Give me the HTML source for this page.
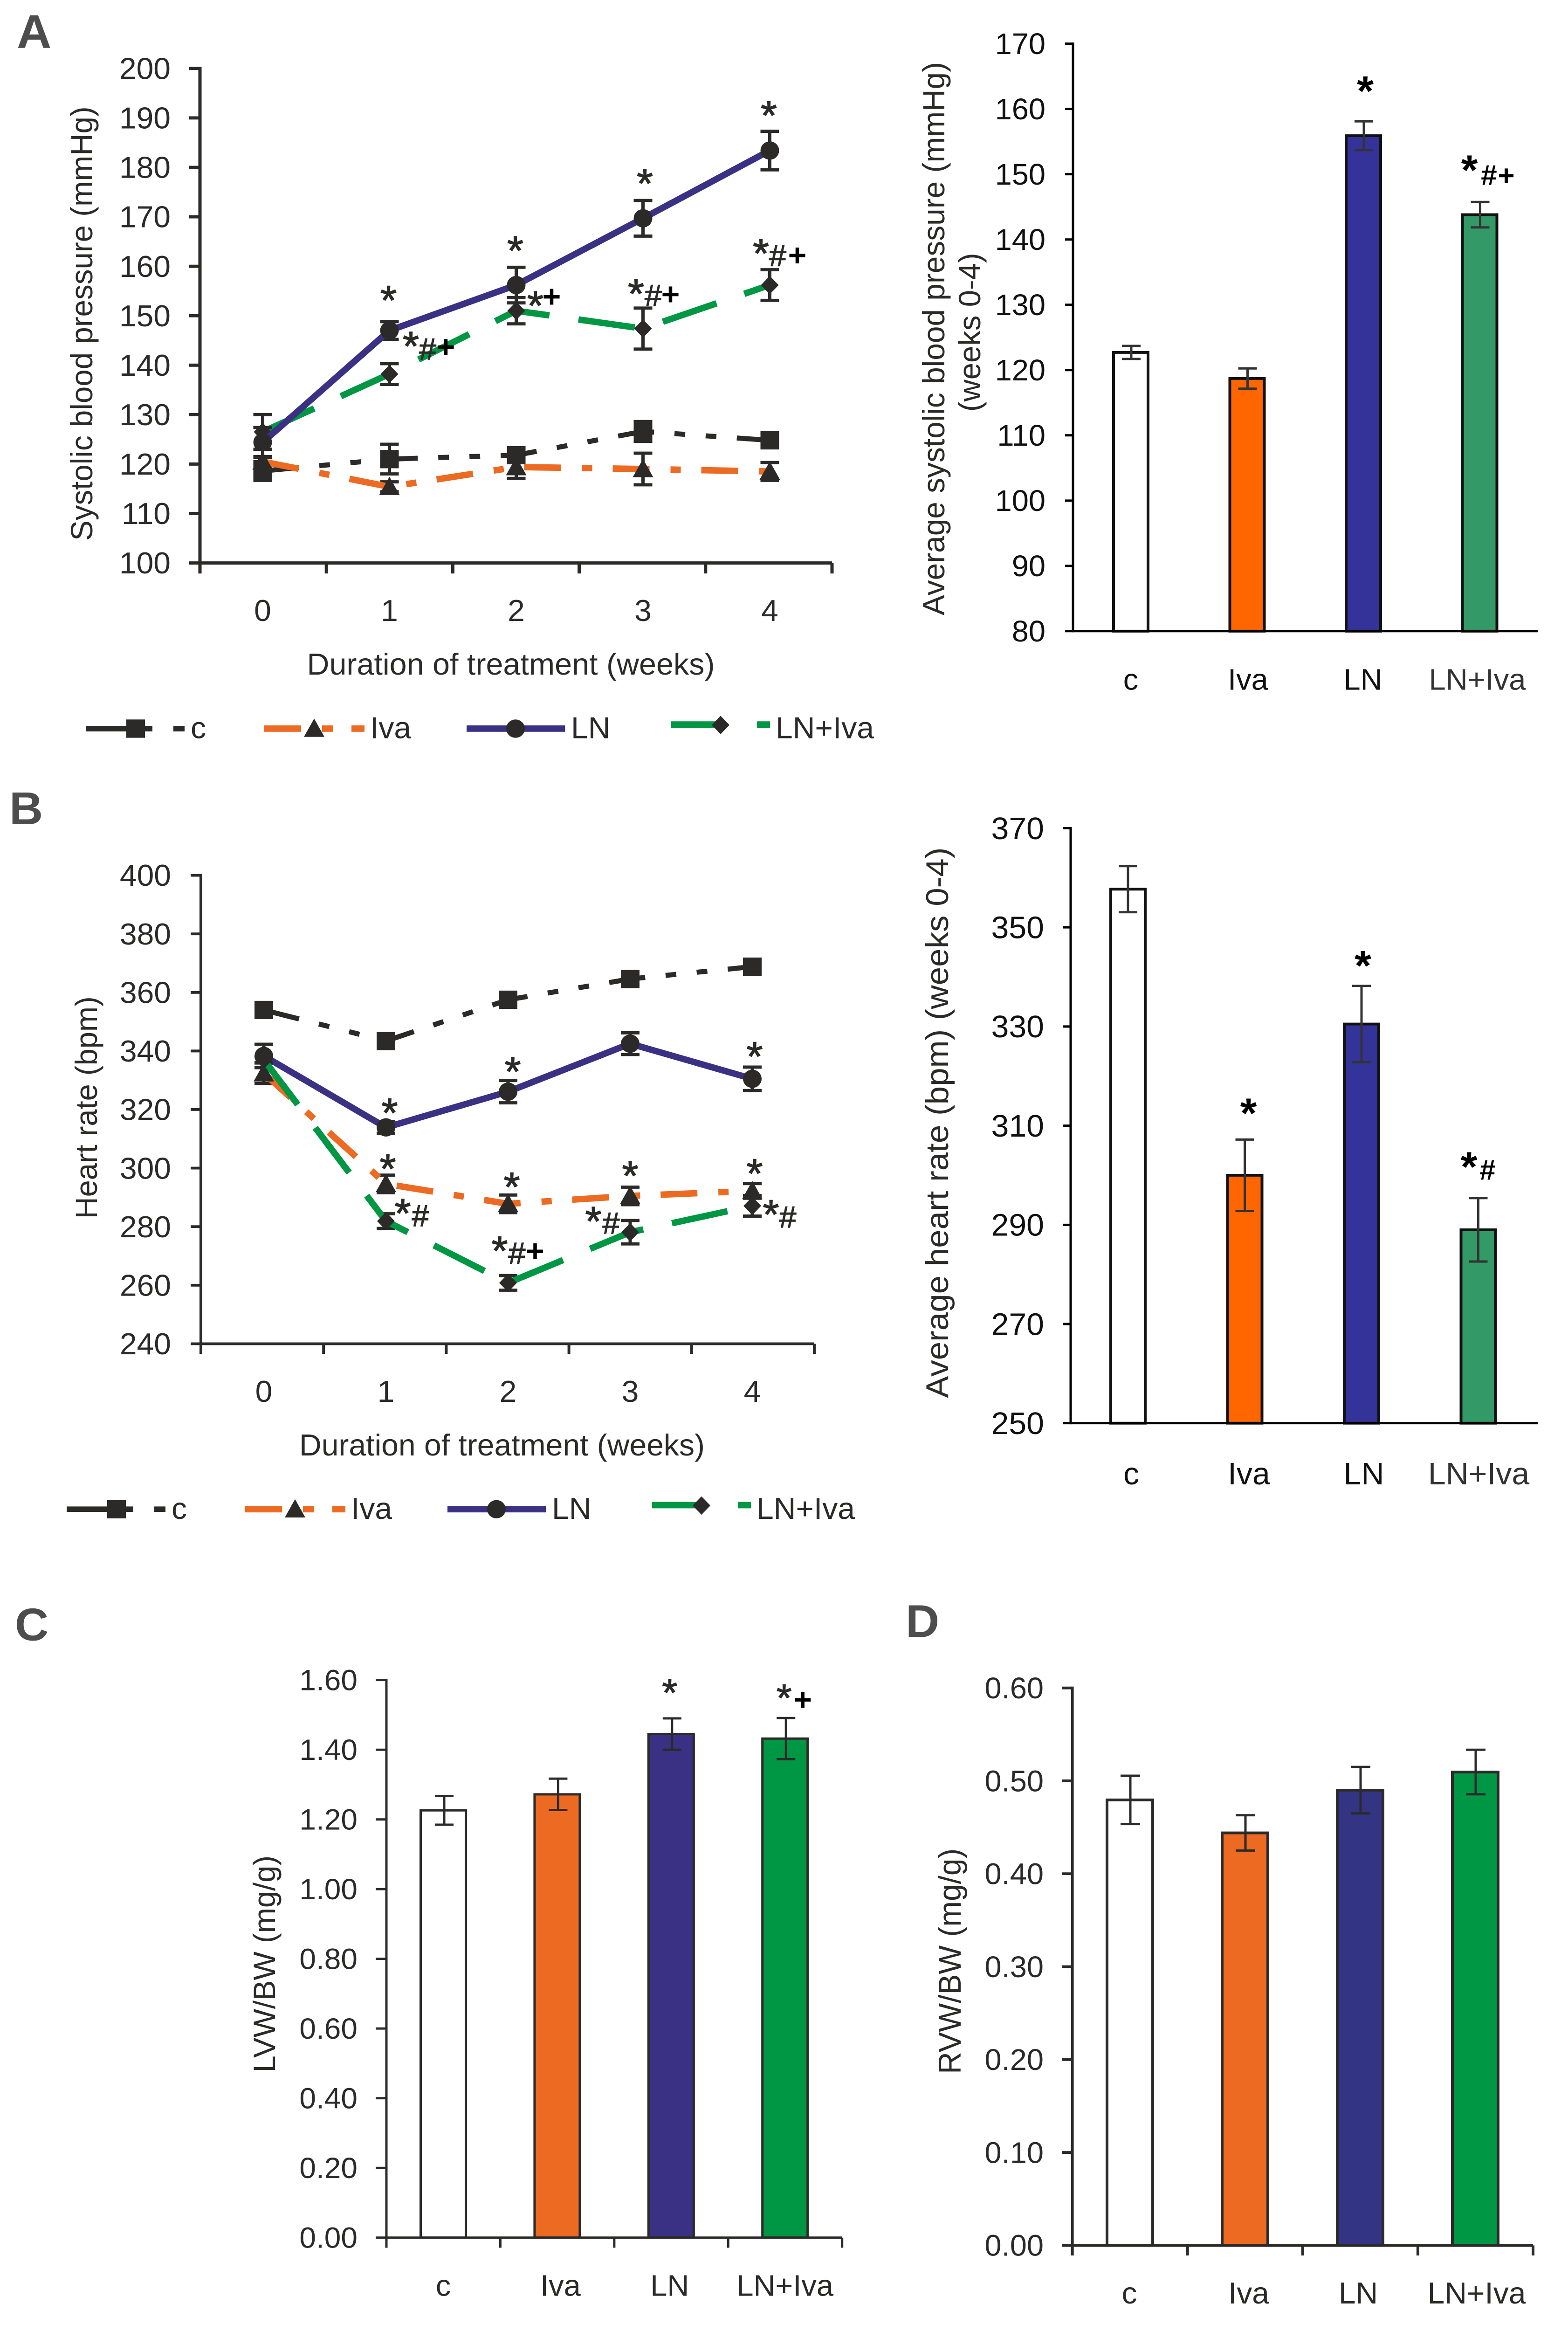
<!DOCTYPE html>
<html lang="en">
<head>
<meta charset="utf-8">
<title>Blood pressure, heart rate and ventricular weight charts</title>
<style>
html,body{margin:0;padding:0;background:#fff;width:100%;height:100%;overflow:hidden;}
svg{display:block;position:absolute;left:0;top:0;width:100vw;height:100vh;overflow:hidden;}
text{font-family:"Liberation Sans",sans-serif;fill:#2b2a29;}
.letter{font-weight:bold;font-size:100px;fill:#4d4d4d;}
.lg{font-size:66px;}
</style>
</head>
<body>
<svg id="figure" xmlns="http://www.w3.org/2000/svg" viewBox="0 0 3364 5093" preserveAspectRatio="none">
<rect x="0" y="0" width="3364" height="5093" fill="#ffffff"/>

<text class="letter" x="36" y="105" style="font-size:103px">A</text>
<text class="letter" x="20" y="1801">B</text>
<text class="letter" x="32" y="3584">C</text>
<text class="letter" x="1943" y="3577">D</text>

<g id="chartA">
  <text transform="translate(198,707) rotate(-90)" text-anchor="middle" font-size="66" textLength="949" lengthAdjust="spacingAndGlyphs">Systolic blood pressure (mmHg)</text>
  <text x="1096" y="1474" text-anchor="middle" font-size="66" textLength="875" lengthAdjust="spacingAndGlyphs">Duration of treatment (weeks)</text>
</g>
<g id="chartAbar">
  <text transform="translate(2026,740) rotate(-90)" text-anchor="middle" font-size="66" textLength="1209" lengthAdjust="spacingAndGlyphs">Average systolic blood pressure (mmHg)</text>
  <text transform="translate(2103,726) rotate(-90)" text-anchor="middle" font-size="66" textLength="347" lengthAdjust="spacingAndGlyphs">(weeks 0-4)</text>
</g>
<g id="chartB">
  <text transform="translate(208,2420) rotate(-90)" text-anchor="middle" font-size="66" textLength="486" lengthAdjust="spacingAndGlyphs">Heart rate (bpm)</text>
  <text x="1077" y="3180" text-anchor="middle" font-size="66" textLength="870" lengthAdjust="spacingAndGlyphs">Duration of treatment (weeks)</text>
</g>
<g id="chartBbar">
  <text transform="translate(2034,2453) rotate(-90)" text-anchor="middle" font-size="68" textLength="1203" lengthAdjust="spacingAndGlyphs">Average heart rate (bpm) (weeks 0-4)</text>
</g>
<g id="chartC">
  <text transform="translate(590,4291) rotate(-90)" text-anchor="middle" font-size="66" textLength="474" lengthAdjust="spacingAndGlyphs">LVW/BW (mg/g)</text>
</g>
<g id="chartD">
  <text transform="translate(2061,4285) rotate(-90)" text-anchor="middle" font-size="68" textLength="493" lengthAdjust="spacingAndGlyphs">RVW/BW (mg/g)</text>
</g>

<g id="legendA">
  <g>
    <path d="M184 1592H327M372 1592H396" stroke="#2b2a29" stroke-width="12" fill="none"/>
    <rect x="271" y="1572" width="40" height="40" fill="#2b2a29"/>
    <text class="lg" x="409" y="1613">c</text>
  </g>
  <g>
    <path d="M567 1592H646M691 1592H715M754 1592H782" stroke="#ec6a21" stroke-width="14" fill="none"/>
    <path d="M674 1570L696 1610H652Z" fill="#2b2a29"/>
    <text class="lg" x="794" y="1613">Iva</text>
  </g>
  <g>
    <path d="M1001 1592H1212" stroke="#3a3184" stroke-width="14" fill="none"/>
    <circle cx="1106" cy="1592" r="20" fill="#2b2a29"/>
    <text class="lg" x="1225" y="1613">LN</text>
  </g>
  <g>
    <path d="M1440 1583H1539M1624 1583H1652" stroke="#009744" stroke-width="14" fill="none"/>
    <path d="M1546 1564L1565 1584L1546 1604L1527 1584Z" fill="#2b2a29"/>
    <text class="lg" x="1664" y="1613">LN+Iva</text>
  </g>
</g>
<g id="legendB" transform="translate(-41,1705.5)">
  <g>
    <path d="M184 1592H327M372 1592H396" stroke="#2b2a29" stroke-width="12" fill="none"/>
    <rect x="271" y="1572" width="40" height="40" fill="#2b2a29"/>
    <text class="lg" x="409" y="1613">c</text>
  </g>
  <g>
    <path d="M567 1592H646M691 1592H715M754 1592H782" stroke="#ec6a21" stroke-width="14" fill="none"/>
    <path d="M674 1570L696 1610H652Z" fill="#2b2a29"/>
    <text class="lg" x="794" y="1613">Iva</text>
  </g>
  <g>
    <path d="M1001 1592H1212" stroke="#3a3184" stroke-width="14" fill="none"/>
    <circle cx="1106" cy="1592" r="20" fill="#2b2a29"/>
    <text class="lg" x="1225" y="1613">LN</text>
  </g>
  <g>
    <path d="M1440 1583H1539M1624 1583H1652" stroke="#009744" stroke-width="14" fill="none"/>
    <path d="M1546 1564L1565 1584L1546 1604L1527 1584Z" fill="#2b2a29"/>
    <text class="lg" x="1664" y="1613">LN+Iva</text>
  </g>
</g>
</svg>

<script>
// ---- shared categories ----
const weeks = ['0', '1', '2', '3', '4'];
const groups = ['c', 'Iva', 'LN', 'LN+Iva'];

// ---- panel A: weekly systolic blood pressure ----
const sbpTicks = [100, 110, 120, 130, 140, 150, 160, 170, 180, 190, 200];
const sbpC = [118.6, 121, 121.8, 126.6, 124.8];
const sbpCErr = [1.9, 3, 1.5, 2, 1.5];
const sbpIva = [120.5, 115.4, 119.4, 119, 118.5];
const sbpIvaErr = [1, 1, 2.3, 3.2, 1.8];
const sbpLN = [124.4, 147, 156.2, 169.7, 183.4];
const sbpLNErr = [3, 1.8, 3.6, 3.6, 3.9];
const sbpCombo = [126.5, 138.2, 151, 147.4, 156.2];
const sbpComboErr = [3.5, 2.1, 2.65, 4.15, 3.1];

// ---- panel A: average systolic blood pressure ----
const avgSbpTicks = [80, 90, 100, 110, 120, 130, 140, 150, 160, 170];
const avgSbp = [122.7, 118.7, 155.9, 143.8];
const avgSbpErr = [1, 1.55, 2.2, 1.95];

// ---- panel B: weekly heart rate ----
const hrTicks = [240, 260, 280, 300, 320, 340, 360, 380, 400];
const hrC = [354, 343.4, 357.5, 364.6, 368.8];
const hrCErr = [1.5, 1.5, 1.5, 1.5, 1.5];
const hrIva = [332.4, 294.6, 287.8, 290.5, 292.2];
const hrIvaErr = [3.5, 3, 3, 3, 2.5];
const hrLN = [338.3, 313.9, 326.1, 342.5, 330.5];
const hrLNErr = [4, 2, 3.8, 3.7, 4];
const hrCombo = [337, 281.9, 260.8, 278.1, 287.1];
const hrComboErr = [1, 2.5, 2.5, 4, 3.5];

// ---- panel B: average heart rate ----
const avgHrTicks = [250, 270, 290, 310, 330, 350, 370];
const avgHr = [357.7, 300, 330.5, 289];
const avgHrErr = [4.65, 7.2, 7.7, 6.4];

// ---- panel C: LVW/BW ----
const lvwTicks = ['0.00', '0.20', '0.40', '0.60', '0.80', '1.00', '1.20', '1.40', '1.60'];
const lvw = [1.226, 1.272, 1.445, 1.432];
const lvwErr = [0.041, 0.045, 0.045, 0.059];

// ---- panel D: RVW/BW ----
const rvwTicks = ['0.00', '0.10', '0.20', '0.30', '0.40', '0.50', '0.60'];
const rvw = [0.4795, 0.444, 0.49, 0.5095];
const rvwErr = [0.026, 0.019, 0.025, 0.024];

const SVGNS = 'http://www.w3.org/2000/svg';
const INK = '#2b2a29';
const ORANGE = '#ec6a21';
const NAVY = '#3a3184';
const GREEN = '#009744';

function mk(parent, tag, attrs) {
  const n = document.createElementNS(SVGNS, tag);
  for (const k in attrs) n.setAttribute(k, attrs[k]);
  parent.appendChild(n);
  return n;
}
function linear(d0, d1, r0, r1) {
  return function (v) { return r0 + (Number(v) - d0) * (r1 - r0) / (d1 - d0); };
}

function yAxis(g, ticks, y, a) {
  const axis = mk(g, 'line', { x1: a.x, x2: a.x, y1: y(ticks[ticks.length - 1]) - a.sw / 2, y2: a.bottom + (a.xTicks ? a.tickLen : a.sw / 2), stroke: a.color, 'stroke-width': a.sw });
  
  
  ticks.forEach(function (t) {
    const mark = mk(g, 'line', { x1: a.x - a.leftTick, x2: a.x, y1: y(t), y2: y(t), stroke: a.color, 'stroke-width': a.sw });
    
    
    const label = mk(g, 'text', { x: a.labelRight, y: y(t) + a.fs * 0.35, 'text-anchor': 'end', 'font-size': a.fs, style: 'fill:' + a.textColor });
    label.textContent = t;
    
    
  });
}

function xAxis(g, a, count) {
  const base = mk(g, 'line', { x1: a.x, x2: a.right, y1: a.bottom, y2: a.bottom, stroke: a.color, 'stroke-width': a.sw });
  
  
  if (!a.xTicks) return;
  for (let i = 0; i <= count; i++) {
    const px = a.x + (a.right - a.x) * i / count;
    const mark = mk(g, 'line', { x1: px, x2: px, y1: a.bottom, y2: a.bottom + a.tickLen, stroke: a.color, 'stroke-width': a.sw });
    
    
  }
}

function xLabel(g, text, cx, baseline, fs, color) {
  const label = mk(g, 'text', { x: cx, y: baseline, 'text-anchor': 'middle', 'font-size': fs, style: 'fill:' + color });
  label.textContent = text;
  
  
}

function errorBar(g, cx, yHi, yLo, cap, sw, color) {
  const e = mk(g, 'path', { d: 'M' + (cx - cap) + ' ' + yHi + 'H' + (cx + cap) + 'M' + cx + ' ' + yHi + 'V' + yLo + 'M' + (cx - cap) + ' ' + yLo + 'H' + (cx + cap), stroke: color, 'stroke-width': sw, fill: 'none' });
  
  
}

function marker(g, shape, px, py) {
  let m;
  if (shape === 'square') {
    m = mk(g, 'rect', { x: px - 20, y: py - 20, width: 40, height: 40, fill: INK });
  } else if (shape === 'triangle') {
    m = mk(g, 'path', { d: 'M' + px + ' ' + (py - 22) + 'L' + (px + 22) + ' ' + (py + 18) + 'H' + (px - 22) + 'Z', fill: INK });
  } else if (shape === 'circle') {
    m = mk(g, 'circle', { cx: px, cy: py, r: 20, fill: INK });
  } else {
    m = mk(g, 'path', { d: 'M' + px + ' ' + (py - 20) + 'L' + (px + 19) + ' ' + py + 'L' + px + ' ' + (py + 20) + 'L' + (px - 19) + ' ' + py + 'Z', fill: INK });
  }
  
  
}

function drawSeries(g, vals, errs, x, y, style) {
  errs.forEach(function (er, i) {
    errorBar(g, x(i), y(vals[i] + er), y(vals[i] - er), 20, 7, INK);
  });
  const pts = vals.map(function (v, i) { return x(i) + ',' + y(v); }).join(' ');
  const line = mk(g, 'polyline', { points: pts, stroke: style.color, 'stroke-width': style.sw, 'stroke-dasharray': style.dash, fill: 'none' });
  
  
  vals.forEach(function (v, i) { marker(g, style.shape, x(i), y(v)); });
}

const baselineShift = { '*': 0.55, '#': 0.35, '+': 0.34 };
function note(g, ch, cx, cy, fs, bold, color) {
  const c = color || INK;
  const t = mk(g, 'text', { x: cx, y: cy + fs * baselineShift[ch], 'text-anchor': 'middle', 'font-size': fs, 'font-weight': bold ? 'bold' : 'normal', stroke: c, 'stroke-width': bold ? 0 : 1.5, style: 'fill:' + c });
  t.textContent = ch;
  
  
}

function drawBars(g, vals, errs, x, y, base, w, sw, fills, errSw, cap, errColor, errDx) {
  vals.forEach(function (v, i) {
    const top = y(v);
    const bar = mk(g, 'rect', { x: x(i) - w / 2 + sw / 2, y: top, width: w - sw, height: base - top, fill: fills[i], stroke: INK === errColor ? INK : '#111', 'stroke-width': sw });
    
    
  });
  vals.forEach(function (v, i) {
    errorBar(g, x(i) + errDx, y(v + errs[i]), y(v - errs[i]), cap, errSw, errColor);
  });
}

const C_STYLE = { color: INK, sw: 11, dash: '78 44 23 44 23 44', shape: 'square' };
const IVA_STYLE = { color: ORANGE, sw: 14, dash: '79 45 22 44', shape: 'triangle' };
const LN_STYLE = { color: NAVY, sw: 14, dash: 'none', shape: 'circle' };
const COMBO_STYLE = { color: GREEN, sw: 14, dash: '122 63', shape: 'diamond' };

// ---------- Panel A line chart ----------
(function () {
  const g = document.getElementById('chartA');
  const x = function (i) { return 563.5 + 272 * i; };
  const y = linear(100, 200, 1230, 149.6);
  const a = { x: 429, right: 1785, bottom: 1230, sw: 7, color: INK, textColor: INK, leftTick: 23, labelRight: 366, fs: 66, xTicks: true, tickLen: 23 };
  yAxis(g, sbpTicks, y, a);
  xAxis(g, a, weeks.length);
  weeks.forEach(function (w, i) { xLabel(g, w, x(i), 1357, 66, INK); });
  drawSeries(g, sbpC, sbpCErr, x, y, C_STYLE);
  drawSeries(g, sbpIva, sbpIvaErr, x, y, IVA_STYLE);
  drawSeries(g, sbpCombo, sbpComboErr, x, y, COMBO_STYLE);
  drawSeries(g, sbpLN, sbpLNErr, x, y, LN_STYLE);
  const fs = 90, hs = 66, ps = 68;
  note(g, '*', x(1) - 2, y(sbpLN[1]) - 85, fs);
  note(g, '*', x(2) - 2, y(sbpLN[2]) - 94, fs);
  note(g, '*', x(3) + 4, y(sbpLN[3]) - 95, fs);
  note(g, '*', x(4) - 2, y(sbpLN[4]) - 96, fs);
  note(g, '*', x(1) + 46, y(sbpCombo[1]) - 80, fs);
  note(g, '#', x(1) + 82, y(sbpCombo[1]) - 55, hs);
  note(g, '+', x(1) + 121, y(sbpCombo[1]) - 59, ps, true, '#000');
  note(g, '*', x(2) + 41, y(sbpCombo[2]) - 30, fs);
  note(g, '+', x(2) + 76, y(sbpCombo[2]) - 31, ps, true, '#000');
  note(g, '*', x(3) - 15, y(sbpCombo[3]) - 95, fs);
  note(g, '#', x(3) + 22, y(sbpCombo[3]) - 73, hs);
  note(g, '+', x(3) + 59, y(sbpCombo[3]) - 75, ps, true, '#000');
  note(g, '*', x(4) - 19, y(sbpCombo[4]) - 88, fs);
  note(g, '#', x(4) + 17, y(sbpCombo[4]) - 65, hs);
  note(g, '+', x(4) + 59, y(sbpCombo[4]) - 65, ps, true, '#000');
})();

// ---------- Panel A bar chart ----------
(function () {
  const g = document.getElementById('chartAbar');
  const x = function (i) { return 2426 + 249.5 * i; };
  const y = linear(80, 170, 1379, 95.4);
  const a = { x: 2302, right: 3300, bottom: 1379, sw: 5, color: '#000', textColor: '#111', leftTick: 17, labelRight: 2243, fs: 65, xTicks: false, tickLen: 0 };
  drawBars(g, avgSbp, avgSbpErr, x, y, 1379, 80, 6, ['#ffffff', '#ff6600', '#333399', '#339966'], 5, 20, '#333', 1);
  yAxis(g, avgSbpTicks, y, a);
  xAxis(g, a, groups.length);
  const cx = [0, 2, -1, -5];
  groups.forEach(function (n, i) { xLabel(g, n, x(i) + cx[i], 1507, 65, i === 3 ? '#333' : '#111'); });
  note(g, '*', x(2) + 4, y(avgSbp[2]) - 117, 92, true, '#000');
  note(g, '*', x(3) - 22, y(avgSbp[3]) - 117, 92, true, '#000');
  note(g, '#', x(3) + 20, y(avgSbp[3]) - 87, 62, true, '#000');
  note(g, '+', x(3) + 57, y(avgSbp[3]) - 85, 62, true, '#000');
})();

// ---------- Panel B line chart ----------
(function () {
  const g = document.getElementById('chartB');
  const x = function (i) { return 566 + 262 * i; };
  const y = linear(240, 400, 2936, 1912.5);
  const a = { x: 431, right: 1747, bottom: 2936, sw: 6, color: INK, textColor: INK, leftTick: 22, labelRight: 367, fs: 66, xTicks: true, tickLen: 22 };
  yAxis(g, hrTicks, y, a);
  xAxis(g, a, weeks.length);
  weeks.forEach(function (w, i) { xLabel(g, w, x(i), 3063, 66, INK); });
  drawSeries(g, hrC, hrCErr, x, y, C_STYLE);
  drawSeries(g, hrLN, hrLNErr, x, y, LN_STYLE);
  drawSeries(g, hrIva, hrIvaErr, x, y, IVA_STYLE);
  drawSeries(g, hrCombo, hrComboErr, x, y, COMBO_STYLE);
  const fs = 90, hs = 66, ps = 68;
  note(g, '*', x(1) + 8, y(hrLN[1]) - 51, fs);
  note(g, '*', x(2) + 10, y(hrLN[2]) - 63, fs);
  note(g, '*', x(4) + 5, y(hrLN[4]) - 68, fs);
  note(g, '*', x(1) + 4, y(hrIva[1]) - 52, fs);
  note(g, '*', x(2) + 8, y(hrIva[2]) - 56, fs);
  note(g, '*', x(3), y(hrIva[3]) - 63, fs);
  note(g, '*', x(4) + 5, y(hrIva[4]) - 57, fs);
  note(g, '*', x(1) + 36, y(hrCombo[1]) - 36, fs);
  note(g, '#', x(1) + 74, y(hrCombo[1]) - 12, hs);
  note(g, '*', x(2) - 18, y(hrCombo[2]) - 89, fs);
  note(g, '#', x(2) + 19, y(hrCombo[2]) - 65, hs);
  note(g, '+', x(2) + 58, y(hrCombo[2]) - 69, ps, true, '#000');
  note(g, '*', x(3) - 79, y(hrCombo[3]) - 43, fs);
  note(g, '#', x(3) - 41, y(hrCombo[3]) - 20, hs);
  note(g, '*', x(4) + 40, y(hrCombo[4]), fs);
  note(g, '#', x(4) + 76, y(hrCombo[4]) + 24, hs);
})();

// ---------- Panel B bar chart ----------
(function () {
  const g = document.getElementById('chartBbar');
  const x = function (i) { return 2420 + 250.5 * i; };
  const y = linear(250, 370, 3109.5, 1809.5);
  const a = { x: 2297, right: 3300, bottom: 3109.5, sw: 5, color: '#000', textColor: '#111', leftTick: 17, labelRight: 2240, fs: 68, xTicks: false, tickLen: 0 };
  drawBars(g, avgHr, avgHrErr, x, y, 3109.5, 80, 6, ['#ffffff', '#ff6600', '#333399', '#339966'], 5, 20, '#333', 0);
  yAxis(g, avgHrTicks, y, a);
  xAxis(g, a, groups.length);
  const cx = [7, 9, 5, 1];
  groups.forEach(function (n, i) { xLabel(g, n, x(i) + cx[i], 3243, 68, i === 3 ? '#333' : '#111'); });
  note(g, '*', x(1) + 8, y(avgHr[1]) - 155, 92, true, '#000');
  note(g, '*', x(2) + 3, y(avgHr[2]) - 147, 92, true, '#000');
  note(g, '*', x(3) - 20, y(avgHr[3]) - 157, 92, true, '#000');
  note(g, '#', x(3) + 20, y(avgHr[3]) - 131, 62, true, '#000');
})();

// ---------- Panel C ----------
(function () {
  const g = document.getElementById('chartC');
  const x = function (i) { return 951 + 244.4 * i; };
  const y = linear(0, 1.6, 4889, 3670.7);
  const a = { x: 829, right: 1806.7, bottom: 4889, sw: 5, color: INK, textColor: INK, leftTick: 23, labelRight: 767, fs: 64, xTicks: true, tickLen: 22 };
  drawBars(g, lvw, lvwErr, x, y, 4889, 102, 5, ['#ffffff', ORANGE, NAVY, GREEN], 5, 20, INK, 2);
  yAxis(g, lvwTicks, y, a);
  xAxis(g, a, groups.length);
  const cx = [0, 7, -3, 0];
  groups.forEach(function (n, i) { xLabel(g, n, x(i) + cx[i], 5016, 65, INK); });
  note(g, '*', x(2) - 3, y(lvw[2]) - 108, 84);
  note(g, '*', x(3) - 2, y(lvw[3]) - 106, 84);
  note(g, '+', x(3) + 38, y(lvw[3]) - 85, 68, true, '#000');
})();

// ---------- Panel D ----------
(function () {
  const g = document.getElementById('chartD');
  const x = function (i) { return 2424 + 247 * i; };
  const y = linear(0, 0.6, 4906, 3688);
  const a = { x: 2300.6, right: 3289, bottom: 4906, sw: 6, color: INK, textColor: INK, leftTick: 22, labelRight: 2239, fs: 65, xTicks: true, tickLen: 22 };
  drawBars(g, rvw, rvwErr, x, y, 4906, 104, 6, ['#ffffff', ORANGE, '#333584', GREEN], 5, 21, INK, 1);
  yAxis(g, rvwTicks, y, a);
  xAxis(g, a, groups.length);
  const cx = [-1, 8, -4, 3];
  groups.forEach(function (n, i) { xLabel(g, n, x(i) + cx[i], 5033, 66, INK); });
})();
</script>
</body>
</html>
